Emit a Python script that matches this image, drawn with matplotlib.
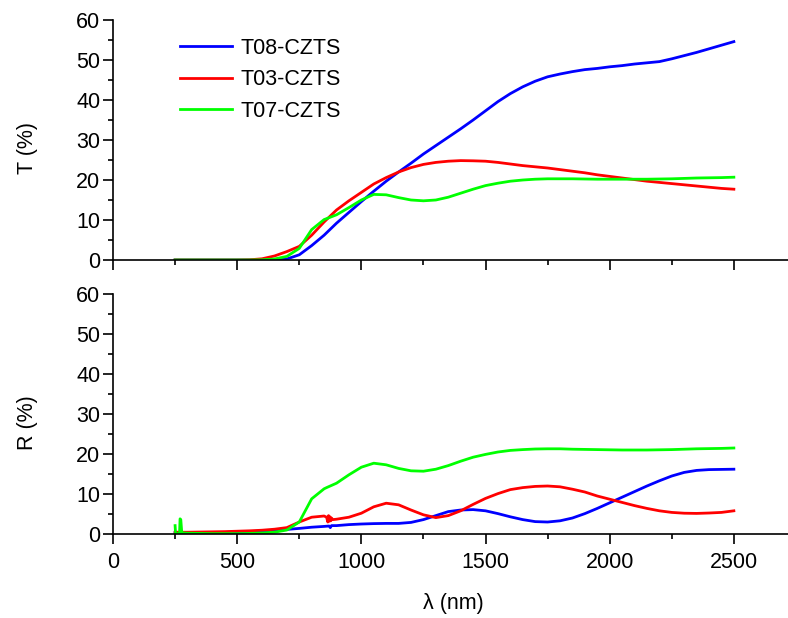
import matplotlib
matplotlib.use("Agg")
import matplotlib.pyplot as plt
from matplotlib.ticker import MultipleLocator

plt.rcParams['font.family'] = ['Liberation Sans', 'DejaVu Sans']

# Wavelength grid (nm) shared by the smooth parts of the spectra
wl = [250, 300, 350, 400, 450, 500, 550, 600, 650, 700, 750, 800, 850, 900,
      950, 1000, 1050, 1100, 1150, 1200, 1250, 1300, 1350, 1400, 1450, 1500,
      1550, 1600, 1650, 1700, 1750, 1800, 1850, 1900, 1950, 2000, 2050, 2100,
      2150, 2200, 2250, 2300, 2350, 2400, 2450, 2500]

# Transmittance (%)
t08_T = [0, 0, 0, 0, 0, 0, 0, 0.02, 0.05, 0.25, 1.3, 3.6, 6.2, 9.2,
         11.9, 14.6, 17.2, 19.7, 22.0, 24.2, 26.5, 28.6, 30.7, 32.8, 35.0, 37.3,
         39.6, 41.6, 43.3, 44.7, 45.8, 46.5, 47.1, 47.6, 47.9, 48.3, 48.6, 49.0,
         49.3, 49.6, 50.3, 51.1, 51.9, 52.8, 53.7, 54.6]
t03_T = [0, 0, 0, 0, 0, 0, 0.05, 0.3, 1.0, 2.1, 3.4, 6.2, 9.5, 12.5,
         14.8, 16.9, 19.0, 20.6, 22.0, 23.1, 23.9, 24.4, 24.7, 24.85, 24.8, 24.7,
         24.4, 24.0, 23.6, 23.3, 23.0, 22.6, 22.2, 21.8, 21.3, 20.9, 20.5, 20.1,
         19.7, 19.4, 19.1, 18.8, 18.5, 18.2, 17.9, 17.7]
t07_T = [0, 0, 0, 0, 0, 0, 0, 0.05, 0.25, 0.9, 2.9, 7.6, 10.1, 11.3,
         13.1, 15.0, 16.4, 16.3, 15.6, 15.0, 14.8, 15.0, 15.7, 16.7, 17.7, 18.6,
         19.2, 19.7, 20.0, 20.2, 20.3, 20.3, 20.3, 20.25, 20.2, 20.2, 20.2, 20.2,
         20.2, 20.25, 20.3, 20.4, 20.5, 20.55, 20.6, 20.7]

# Reflectance (%)
wl_r08 = [250, 300, 350, 400, 450, 500, 550, 600, 650, 700, 750, 800, 850,
          870, 875, 880, 900, 950, 1000, 1050, 1100, 1150, 1200, 1250, 1300,
          1350, 1400, 1450, 1500, 1550, 1600, 1650, 1700, 1750, 1800, 1850,
          1900, 1950, 2000, 2050, 2100, 2150, 2200, 2250, 2300, 2350, 2400,
          2450, 2500]
t08_R = [0.3, 0.3, 0.3, 0.35, 0.4, 0.5, 0.6, 0.75, 0.95, 1.15, 1.4, 1.7, 1.9,
         2.0, 1.6, 2.1, 2.1, 2.35, 2.5, 2.6, 2.65, 2.65, 2.9, 3.6, 4.6,
         5.6, 6.0, 6.1, 5.8, 5.1, 4.3, 3.6, 3.1, 3.0, 3.3, 4.0,
         5.1, 6.4, 7.8, 9.2, 10.6, 12.0, 13.3, 14.5, 15.4, 15.9, 16.1,
         16.15, 16.2]

wl_r03 = [250, 300, 350, 400, 450, 500, 550, 600, 650, 700, 750, 800, 850,
          860, 865, 868, 871, 874, 877, 880, 885, 900, 950, 1000, 1050, 1100,
          1150, 1200, 1250, 1300, 1350, 1400, 1450, 1500, 1550, 1600, 1650,
          1700, 1750, 1800, 1850, 1900, 1950, 2000, 2050, 2100, 2150, 2200,
          2250, 2300, 2350, 2400, 2450, 2500]
t03_R = [0.45, 0.45, 0.5, 0.55, 0.6, 0.7, 0.8, 0.95, 1.2, 1.6, 3.0, 4.2, 4.5,
         4.2, 3.0, 4.6, 3.2, 4.3, 3.3, 4.0, 3.6, 3.7, 4.2, 5.2, 6.8, 7.7,
         7.3, 6.0, 4.8, 4.1, 4.6, 5.8, 7.4, 8.9, 10.1, 11.1, 11.6,
         11.9, 12.0, 11.8, 11.2, 10.5, 9.5, 8.7, 7.9, 7.1, 6.4, 5.8,
         5.4, 5.2, 5.15, 5.25, 5.4, 5.8]

wl_r07 = [250, 252, 258, 268, 270, 273, 277, 300, 350, 400, 450, 500, 550,
          600, 650, 700, 750, 800, 850, 860, 900, 950, 1000, 1050, 1100, 1150,
          1200, 1250, 1300, 1350, 1400, 1450, 1500, 1550, 1600, 1650, 1700,
          1750, 1800, 1850, 1900, 1950, 2000, 2050, 2100, 2150, 2200, 2250,
          2300, 2350, 2400, 2450, 2500]
t07_R = [2.1, 0.1, 0.1, 0.2, 3.8, 3.6, 0.3, 0.2, 0.15, 0.1, 0.1, 0.1, 0.15,
         0.25, 0.45, 1.0, 3.0, 8.8, 11.3, 11.6, 12.7, 14.8, 16.7, 17.7, 17.3, 16.4,
         15.8, 15.7, 16.2, 17.1, 18.2, 19.2, 19.9, 20.5, 20.9, 21.1, 21.25,
         21.3, 21.3, 21.2, 21.15, 21.1, 21.05, 21.0, 21.0, 21.0, 21.05, 21.1,
         21.2, 21.3, 21.35, 21.4, 21.5]

labels = ["T08-CZTS", "T03-CZTS", "T07-CZTS"]
colors = ["#0000FF", "#FF0000", "#00FF00"]

fig = plt.figure(figsize=(7.88, 6.18), dpi=100)
ax_t = fig.add_axes([0.1434, 0.5793, 0.8566, 0.3883])
ax_r = fig.add_axes([0.1434, 0.1359, 0.8566, 0.3884])

lw = 2.0
ax_t.plot(wl, t08_T, color=colors[0], lw=lw, label=labels[0])
ax_t.plot(wl, t03_T, color=colors[1], lw=lw, label=labels[1])
ax_t.plot(wl, t07_T, color=colors[2], lw=lw, label=labels[2])

ax_r.plot(wl_r08, t08_R, color=colors[0], lw=lw)
ax_r.plot(wl_r03, t03_R, color=colors[1], lw=lw)
ax_r.plot(wl_r07, t07_R, color=colors[2], lw=lw)

fs = 15.5
for ax in (ax_t, ax_r):
    ax.set_xlim(0, 2718)
    ax.set_ylim(0, 60)
    for side in ("top", "right"):
        ax.spines[side].set_visible(False)
    for side in ("left", "bottom"):
        ax.spines[side].set_linewidth(1.2)
    ax.xaxis.set_major_locator(MultipleLocator(500))
    ax.xaxis.set_minor_locator(MultipleLocator(250))
    ax.yaxis.set_major_locator(MultipleLocator(10))
    ax.yaxis.set_minor_locator(MultipleLocator(5))
    ax.tick_params(which="major", direction="out", length=7.2, width=1.2,
                   labelsize=fs, pad=2)
    ax.tick_params(which="minor", direction="out", length=3.6, width=1.2)
    ax.tick_params(axis="x", which="major", pad=6)

ax_t.tick_params(axis="x", labelbottom=False)
ax_t.set_ylabel("T (%)", fontsize=fs)
ax_r.set_ylabel("R (%)", fontsize=fs)
ax_r.set_xlabel("λ (nm)", fontsize=fs)
ax_t.yaxis.set_label_coords(-0.111, 0.467)
ax_r.yaxis.set_label_coords(-0.111, 0.465)
ax_r.xaxis.set_label_coords(0.505, -0.245)

fig.legend(loc="upper left", bbox_to_anchor=(0.2284, 0.9385),
           bbox_transform=fig.transFigure, frameon=False, fontsize=fs,
           handlelength=2.42, handletextpad=0.37, labelspacing=0.48,
           borderpad=0, borderaxespad=0)

fig.savefig("out.png", dpi=100)
